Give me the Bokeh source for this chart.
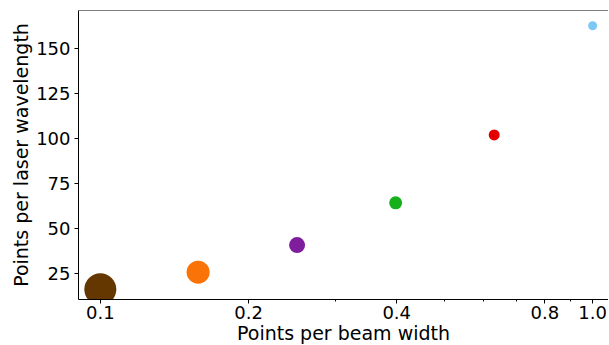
from bokeh.plotting import figure
from bokeh.models import FixedTicker, PrintfTickFormatter, Span, ColumnDataSource, Range1d
from bokeh.embed import file_html
from bokeh.resources import INLINE

points_per_beam_width = [0.1, 0.158, 0.251, 0.398, 0.631, 1.0]
points_per_wavelength = [16.1, 25.6, 40.6, 64.1, 101.8, 162.4]
marker_sizes = [32, 23, 16, 13, 11, 9]
colors = ["#653700", "#f97306", "#7e1e9c", "#15b01a", "#e50000", "#7bc8f6"]

x_major = [0.1, 0.2, 0.4, 0.8, 1.0]
x_minor = [0.3, 0.5, 0.6, 0.7, 0.9]
y_major = [25, 50, 75, 100, 125, 150]

FONT = "DejaVu Sans"

p = figure(x_axis_type="log", output_backend="svg", toolbar_location=None,
           frame_width=530, frame_height=289,
           x_range=Range1d(0.0903, 1.077), y_range=Range1d(10.4, 170.9),
           min_border_left=78, min_border_right=0, min_border_top=10, min_border_bottom=40)
p.outline_line_color = None
p.grid.visible = False
p.background_fill_color = "white"

src = ColumnDataSource(dict(x=points_per_beam_width, y=points_per_wavelength,
                            s=marker_sizes, c=colors))
p.scatter("x", "y", size="s", fill_color="c", line_color=None, source=src)

p.add_layout(Span(location=170.9, dimension="width", line_color="black", line_width=1))

p.xaxis.ticker = FixedTicker(ticks=x_major, minor_ticks=x_minor)
p.xaxis.formatter = PrintfTickFormatter(format="%.1f")
p.yaxis.ticker = FixedTicker(ticks=y_major, minor_ticks=[])

p.xaxis.axis_label = "Points per beam width"
p.yaxis.axis_label = "Points per laser wavelength"

for ax in (p.xaxis, p.yaxis):
    ax.axis_line_color = "black"
    ax.axis_line_width = 1
    ax.major_tick_line_color = "black"
    ax.minor_tick_line_color = "black"
    ax.major_tick_out = 4
    ax.major_tick_in = 0
    ax.minor_tick_out = 2
    ax.minor_tick_in = 0
    ax.major_label_text_font = FONT
    ax.major_label_text_font_size = "18px"
    ax.major_label_text_color = "black"
    ax.axis_label_text_font = FONT
    ax.axis_label_text_font_size = "19px"
    ax.axis_label_text_font_style = "normal"
    ax.axis_label_text_color = "black"

p.xaxis.major_label_standoff = 2
p.xaxis.axis_label_standoff = 0
p.yaxis.major_label_standoff = 4
p.yaxis.axis_label_standoff = 1

open("out.html", "w").write(file_html(p, INLINE))
